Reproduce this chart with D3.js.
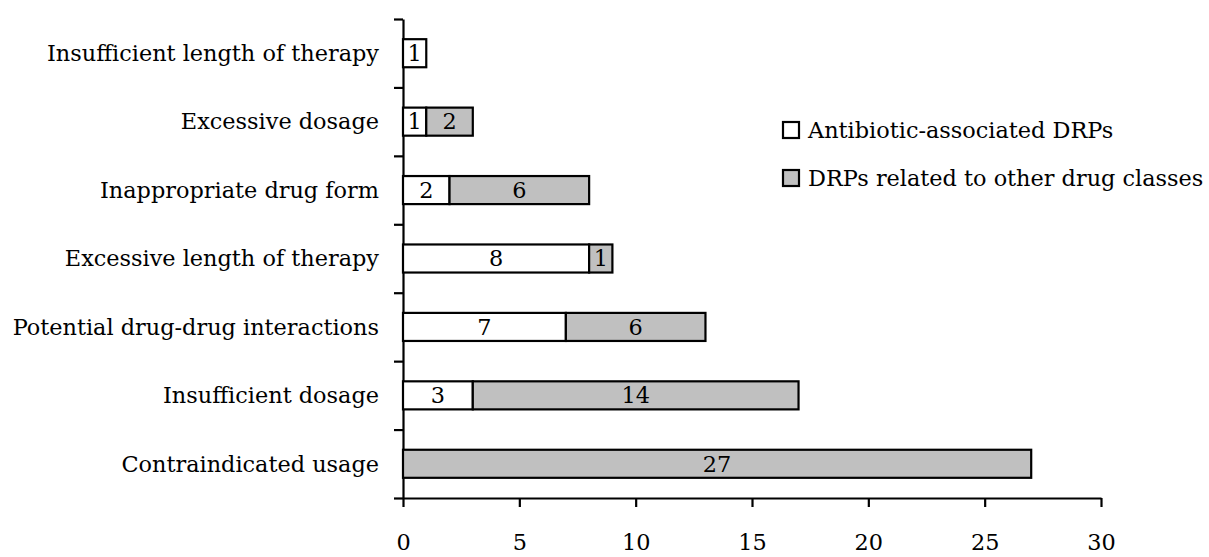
<!DOCTYPE html>
<html><head><meta charset="utf-8">
<script src="https://cdn.jsdelivr.net/npm/d3@7"></script>
<style>body{margin:0;background:#fff}svg{display:block}</style>
</head><body>
<svg id="c" width="1209" height="557"></svg>
<script>
const categories = ["Insufficient length of therapy","Excessive dosage","Inappropriate drug form","Excessive length of therapy","Potential drug-drug interactions","Insufficient dosage","Contraindicated usage"];
const antibiotic = [1,1,2,8,7,3,0];
const other = [0,2,6,1,6,14,27];
const seriesNames = ["Antibiotic-associated DRPs","DRPs related to other drug classes"];
const xTicks = [0,5,10,15,20,25,30];

(function(){
const FONT = "'DejaVu Serif', serif";
const FS = 22.4;
const svg = d3.select("#c");
const mL = 403, mR = 1101, mT = 19, mB = 498;
const x = d3.scaleLinear().domain([0,30]).range([mL,mR]);
const y = d3.scaleBand().domain(categories).range([mT,mB]).paddingInner(0.59).paddingOuter(0.295);
const yb = d3.scaleLinear().domain([0,categories.length]).range([mT,mB]);

const gx = svg.append("g").attr("transform",`translate(0,${mB})`)
  .call(d3.axisBottom(x).tickValues(xTicks).tickSize(9).tickPadding(27).tickSizeOuter(0));
gx.select(".domain").attr("stroke","#000").attr("stroke-width",2.2);
gx.selectAll(".tick line").attr("stroke","#000").attr("stroke-width",2.2);
gx.selectAll(".tick text").attr("font-family",FONT).attr("font-size",FS).attr("fill","#000");

const gy = svg.append("g").attr("transform",`translate(${mL},0)`)
  .call(d3.axisLeft(yb).tickValues(d3.range(0,categories.length+1)).tickSize(9).tickFormat("").tickSizeOuter(0));
gy.select(".domain").attr("stroke","#000").attr("stroke-width",2.2);
gy.selectAll(".tick line").attr("stroke","#000").attr("stroke-width",2.2);

svg.append("g").selectAll("text").data(categories).join("text")
  .attr("x",mL-24).attr("y",d=>y(d)+y.bandwidth()/2).attr("dy","0.35em")
  .attr("text-anchor","end").attr("font-family",FONT).attr("font-size",FS).text(d=>d);

const rows = categories.map((c,i)=>({c, a:antibiotic[i], o:other[i]}));
const segs = [];
rows.forEach(r=>{
  if(r.a>0) segs.push({c:r.c, x0:0, x1:r.a, v:r.a, fill:"#ffffff"});
  if(r.o>0) segs.push({c:r.c, x0:r.a, x1:r.a+r.o, v:r.o, fill:"#c0c0c0"});
});
const gb = svg.append("g");
gb.selectAll("rect").data(segs).join("rect")
  .attr("x",d=>x(d.x0)).attr("y",d=>y(d.c)).attr("width",d=>x(d.x1)-x(d.x0)).attr("height",y.bandwidth())
  .attr("fill",d=>d.fill).attr("stroke","#000").attr("stroke-width",2.2);
gb.selectAll("text").data(segs).join("text")
  .attr("x",d=>(x(d.x0)+x(d.x1))/2).attr("y",d=>y(d.c)+y.bandwidth()/2).attr("dy","0.35em")
  .attr("text-anchor","middle").attr("font-family",FONT).attr("font-size",FS).text(d=>d.v);

const lg = svg.append("g");
const fills = ["#ffffff","#c0c0c0"];
seriesNames.forEach((n,i)=>{
  const cy = 130 + i*48;
  lg.append("rect").attr("x",783).attr("y",cy-8).attr("width",16).attr("height",16)
    .attr("fill",fills[i]).attr("stroke","#000").attr("stroke-width",2.2);
  lg.append("text").attr("x",808).attr("y",cy).attr("dy","0.35em").attr("font-family",FONT).attr("font-size",FS).text(n);
});
})();
</script>
</body></html>
